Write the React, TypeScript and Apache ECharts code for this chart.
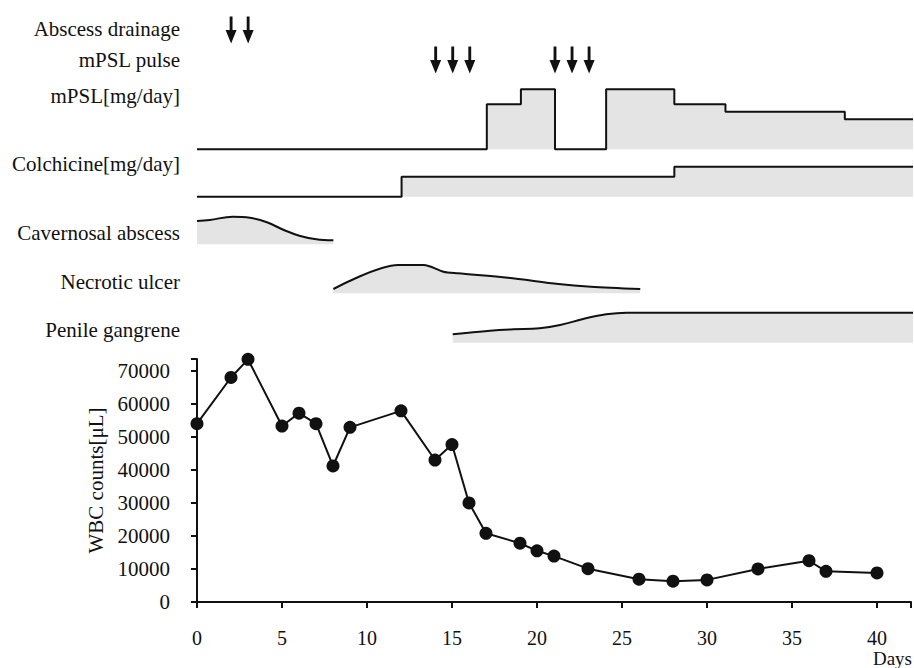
import React, { useEffect, useRef } from "react";
import * as echarts from "echarts";

// ---- data ----
const wbcDays = [0, 2, 3, 5, 6, 7, 8, 9, 12, 14, 15, 16, 17, 19, 20, 21, 23, 26, 28, 30, 33, 36, 37, 40];
const wbcCounts = [54000, 68000, 73500, 53300, 57200, 54000, 41200, 52900, 57900, 43000, 47700, 30000, 20800, 17800, 15500, 13900, 10100, 6900, 6300, 6700, 10000, 12500, 9300, 8800];

const abscessDrainageDays = [2, 3];
const mpslPulseDays = [14, 15, 16, 21, 22, 23];

const mpslDays = [0, 17, 19, 21, 24, 28, 31, 38, 42];
const mpslDose = [0, 60, 80, 0, 80, 60, 50, 40, 40];

const colchicineDays = [0, 12, 28, 42];
const colchicineDose = [0, 1, 1.5, 1.5];

const cavernosalDays = [0, 0.75, 2.1, 3.1, 4.1, 5.1, 6, 7, 8];
const cavernosalLevel = [23.3, 24.3, 27.6, 26.6, 22, 14.3, 8.6, 5, 4];

const necroticDays = [8, 11.8, 13.3, 14.45, 15.3, 18.25, 21.2, 23.1, 26];
const necroticLevel = [4.3, 28.3, 28.3, 21.6, 20, 15.6, 9.3, 6.6, 4.3];

const gangreneDays = [15, 17.2, 18.55, 20.1, 21.3, 22.65, 24, 25.2, 27.7, 42];
const gangreneLevel = [8.4, 12, 13.4, 14.4, 17.7, 23.7, 28.4, 30, 30, 30];

const trackLabels = [
  "Abscess drainage",
  "mPSL pulse",
  "mPSL[mg/day]",
  "Colchicine[mg/day]",
  "Cavernosal abscess",
  "Necrotic ulcer",
  "Penile gangrene",
];

const FONT = "Liberation Serif";
const INK = "#111";
const FILL = "#e4e4e4";
const ARROW = "path://M3.7,0 L6.3,0 L6.3,13 L10,13 L5,26 L0,13 L3.7,13 Z";

const zip = (xs: number[], ys: number[]) => xs.map((x, i) => [x, ys[i]]);

export default function App() {
  const ref = useRef<HTMLDivElement>(null);
  useEffect(() => {
    if (!ref.current) return;
    const chart = echarts.init(ref.current, undefined, { renderer: "svg" });

    const grids = [
      { left: 197, right: 1, top: 15, height: 60 },
      { left: 197, right: 1, top: 89.3, height: 60 },
      { left: 197, right: 1, top: 166.7, height: 30 },
      { left: 197, right: 1, top: 214.3, height: 30 },
      { left: 197, right: 1, top: 263.3, height: 30 },
      { left: 197, right: 1, top: 312.7, height: 30 },
      { left: 197, right: 1, top: 359, bottom: 66 },
    ];

    const hiddenX = [0, 1, 2, 3, 4, 5].map((i) => ({
      type: "value",
      gridIndex: i,
      min: 0,
      max: 42,
      show: false,
    }));

    const trackLine = (xi: number, data: number[][], extra: any = {}) => ({
      type: "line",
      xAxisIndex: xi,
      yAxisIndex: xi,
      data,
      symbol: "none",
      clip: false,
      lineStyle: { color: INK, width: 2 },
      areaStyle: { color: FILL, opacity: 1 },
      ...extra,
    });

    const labelY = [29, 59.5, 95.5, 164, 233.3, 281.7, 330];

    const option: any = {
      animation: false,
      backgroundColor: "#fff",
      textStyle: { fontFamily: FONT },
      grid: grids,
      xAxis: [
        ...hiddenX,
        {
          type: "value",
          gridIndex: 6,
          min: 0,
          max: 42,
          interval: 5,
          offset: 18,
          axisLine: { show: true, lineStyle: { color: INK, width: 2 } },
          axisTick: { show: true, length: 6, lineStyle: { color: INK, width: 2 } },
          axisLabel: {
            fontSize: 20,
            color: INK,
            fontFamily: FONT,
            margin: 8,
            formatter: (v: number) => (v % 5 === 0 ? String(v) : ""),
          },
          splitLine: { show: false },
        },
      ],
      yAxis: [
        {
          type: "category",
          gridIndex: 0,
          data: ["Abscess drainage", "mPSL pulse"],
          inverse: true,
          show: false,
        },
        { type: "value", gridIndex: 1, min: 0, max: 80, show: false },
        { type: "value", gridIndex: 2, min: 0, max: 1.5, show: false },
        { type: "value", gridIndex: 3, min: 0, max: 30, show: false },
        { type: "value", gridIndex: 4, min: 0, max: 30, show: false },
        { type: "value", gridIndex: 5, min: 0, max: 30, show: false },
        {
          type: "value",
          gridIndex: 6,
          min: 0,
          max: 73600,
          interval: 10000,
          offset: 19,
          name: "WBC counts[μL]",
          nameLocation: "middle",
          nameRotate: 90,
          nameGap: 71,
          nameTextStyle: { fontSize: 21, color: INK, fontFamily: FONT },
          axisLine: { show: true, lineStyle: { color: INK, width: 2 } },
          axisTick: { show: true, length: 6, lineStyle: { color: INK, width: 2 } },
          axisLabel: {
            fontSize: 21,
            color: INK,
            fontFamily: FONT,
            margin: 8,
            formatter: (v: number) => (v % 10000 === 0 ? String(v) : ""),
          },
          splitLine: { show: false },
        },
      ],
      series: [
        {
          type: "scatter",
          xAxisIndex: 0,
          yAxisIndex: 0,
          symbol: ARROW,
          symbolSize: [11, 27],
          itemStyle: { color: INK, opacity: 1 },
          data: abscessDrainageDays.map((d) => [d, "Abscess drainage"]),
        },
        {
          type: "scatter",
          xAxisIndex: 0,
          yAxisIndex: 0,
          symbol: ARROW,
          symbolSize: [11, 27],
          itemStyle: { color: INK, opacity: 1 },
          data: mpslPulseDays.map((d) => [d, "mPSL pulse"]),
        },
        trackLine(1, zip(mpslDays, mpslDose), { step: "end" }),
        trackLine(2, zip(colchicineDays, colchicineDose), { step: "end" }),
        trackLine(3, zip(cavernosalDays, cavernosalLevel), { smooth: 0.4 }),
        trackLine(4, zip(necroticDays, necroticLevel), { smooth: 0.3 }),
        trackLine(5, zip(gangreneDays, gangreneLevel), { smooth: 0.4 }),
        {
          type: "line",
          xAxisIndex: 6,
          yAxisIndex: 6,
          data: zip(wbcDays, wbcCounts),
          symbol: "circle",
          symbolSize: 13,
          clip: false,
          itemStyle: { color: INK, opacity: 1 },
          lineStyle: { color: INK, width: 2 },
        },
      ],
      graphic: [
        ...trackLabels.map((t, i) => ({
          type: "text",
          x: 180,
          y: labelY[i],
          style: {
            text: t,
            fontSize: 21,
            fontFamily: FONT,
            fill: INK,
            align: "right",
            verticalAlign: "middle",
          },
        })),
        {
          type: "text",
          x: 912,
          y: 658.5,
          style: {
            text: "Days",
            fontSize: 19,
            fontFamily: FONT,
            fill: INK,
            align: "right",
            verticalAlign: "middle",
          },
        },
      ],
    };

    chart.setOption(option);
    return () => chart.dispose();
  }, []);

  return (
    <div
      ref={ref}
      style={{ position: "fixed", left: 0, top: 0, width: 914, height: 668, background: "#fff" }}
    />
  );
}
